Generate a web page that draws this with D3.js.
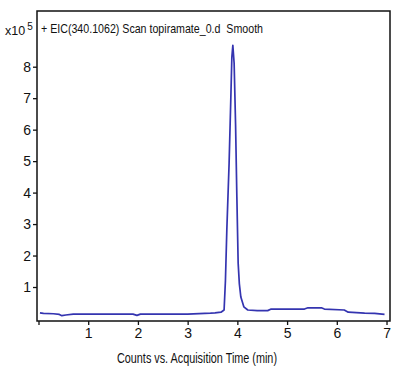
<!DOCTYPE html>
<html>
<head>
<meta charset="utf-8">
<script src="https://cdn.jsdelivr.net/npm/d3@7"></script>
<style>
	body { margin: 0; background: #fff; }
	text { font-family: "Liberation Sans", Arial, sans-serif; fill: #111; white-space: pre; }
</style>
</head>
<body>
<svg id="chart" width="400" height="375"></svg>
<script>
(function(){

	//Trace data (time in min, counts in x10^5)
	var times = [0.03, 0.1, 0.3, 0.42, 0.47, 0.55, 0.7, 1.0, 1.5, 1.9, 1.98, 2.05, 2.5, 3.0, 3.46, 3.55, 3.67, 3.733, 3.76, 3.788, 3.834, 3.869, 3.889, 3.909, 3.935, 3.964, 3.99, 4.016, 4.04, 4.07, 4.13, 4.21, 4.4, 4.61, 4.68, 5.0, 5.35, 5.42, 5.69, 5.75, 6.15, 6.23, 6.56, 6.76, 6.96];
	var counts = [0.18, 0.16, 0.15, 0.13, 0.09, 0.11, 0.14, 0.14, 0.14, 0.14, 0.10, 0.14, 0.14, 0.14, 0.17, 0.18, 0.20, 0.27, 1.2, 2.81, 4.94, 7.03, 8.30, 8.68, 8.11, 6.16, 3.86, 1.76, 1.1, 0.68, 0.37, 0.27, 0.25, 0.25, 0.30, 0.30, 0.30, 0.34, 0.34, 0.30, 0.27, 0.20, 0.17, 0.16, 0.13];
	var xTicks = [0, 1, 2, 3, 4, 5, 6, 7];
	var xTickLabels = ["", "1", "2", "3", "4", "5", "6", "7"];
	var yTicks = [1, 2, 3, 4, 5, 6, 7, 8];

	var title = "+ EIC(340.1062) Scan topiramate_0.d  Smooth";
	var xTitle = "Counts vs. Acquisition Time (min)";

	//Layout
	var left = 37, right = 390, top = 11, bottom = 321;
	var lineColor = "#3434b0";

	var svg = d3.select("#chart");

	var x = d3.scaleLinear().domain([-0.03, 7.07]).range([left, right]);
	var y = d3.scaleLinear().domain([-0.08, 9.77]).range([bottom, top]);

	//Axes with outward ticks
	var xAxis = svg.append("g")
		.attr("transform", "translate(0," + bottom + ")")
		.call(d3.axisBottom(x).tickValues(xTicks).tickSize(4).tickPadding(3)
			.tickFormat(function(d, i){ return xTickLabels[i]; }));
	var yAxis = svg.append("g")
		.attr("transform", "translate(" + left + ",0)")
		.call(d3.axisLeft(y).tickValues(yTicks).tickSize(4).tickPadding(2).tickFormat(d3.format("d")));

	[xAxis, yAxis].forEach(function(ax){
		ax.select(".domain").remove();
		ax.selectAll(".tick line").attr("stroke", "#111").attr("stroke-width", 1.3);
		ax.selectAll(".tick text").attr("font-size", 14).attr("fill", "#111");
	});

	//Trace
	var points = times.map(function(t, i){ return [t, counts[i]]; });
	svg.append("path")
		.datum(points)
		.attr("fill", "none")
		.attr("stroke", lineColor)
		.attr("stroke-width", 1.7)
		.attr("stroke-linejoin", "round")
		.attr("d", d3.line()
			.x(function(d){ return x(d[0]); })
			.y(function(d){ return y(d[1]); }));

	//Frame
	svg.append("rect")
		.attr("x", left).attr("y", top)
		.attr("width", right - left).attr("height", bottom - top)
		.attr("fill", "none")
		.attr("stroke", "#111")
		.attr("stroke-width", 1.5);

	//Labels
	var mult = svg.append("text").attr("x", 5).attr("y", 35).attr("font-size", 12.5);
	mult.append("tspan").text("x10");
	mult.append("tspan").attr("dx", 2).attr("dy", -5).attr("font-size", 10).text("5");

	svg.append("text")
		.attr("x", 41).attr("y", 33)
		.attr("font-size", 13)
		.attr("textLength", 222)
		.attr("lengthAdjust", "spacingAndGlyphs")
		.text(title);

	svg.append("text")
		.attr("x", 117).attr("y", 363)
		.attr("font-size", 14)
		.attr("textLength", 160)
		.attr("lengthAdjust", "spacingAndGlyphs")
		.text(xTitle);

})();
</script>
</body>
</html>
